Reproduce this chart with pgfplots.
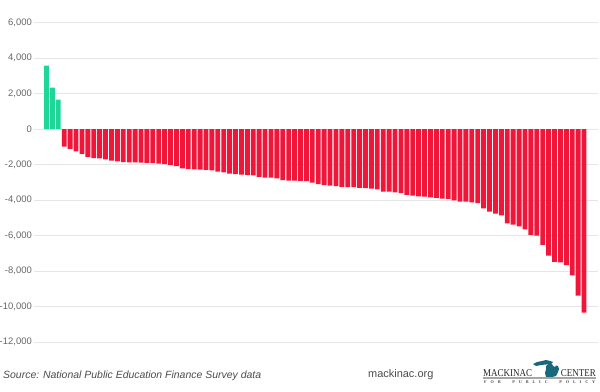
\documentclass[border=0pt]{standalone}
\usepackage{fontspec}
\setmainfont{Liberation Sans}
\newfontfamily\seriffont{Liberation Serif}
\usepackage{pgfplots}
\pgfplotsset{compat=1.18}
\definecolor{barred}{RGB}{240,22,58}
\definecolor{bargreen}{RGB}{30,214,152}
\definecolor{gridgray}{RGB}{230,230,230}
\definecolor{ticktext}{RGB}{102,102,102}
\definecolor{srctext}{RGB}{75,75,75}
\definecolor{mteal}{RGB}{25,105,125}
\begin{document}
\begin{tikzpicture}
\path[use as bounding box] (0bp,0bp) rectangle (600bp,392bp);
\begin{axis}[
  at={(34.5bp,50bp)}, anchor=south west,
  scale only axis, width=563.5bp, height=319.3bp,
  xmin=-2.03, xmax=93.36, ymin=-12000, ymax=6000,
  axis line style={draw=none},
  xtick=\empty,
  ytick={-12000,-10000,...,6000},
  scaled y ticks=false,
  major tick length=0pt,
  ymajorgrids,
  grid style={color=gridgray, line width=0.8bp},
  yticklabel style={anchor=east, inner sep=0pt, xshift=-2.5bp, text=ticktext,
    font=\fontsize{9.5}{11}\selectfont,
    /pgf/number format/.cd, fixed, precision=0, 1000 sep={,}, assume math mode=true},
]
\addplot[ybar, bar width=0.82, bar shift=0pt, fill=bargreen, draw=none]
  coordinates {(0,3580)(1,2340)(2,1670)};
\addplot[ybar, bar width=0.82, bar shift=0pt, fill=barred, draw=none]
  coordinates {
  (3,-980)(4,-1110)(5,-1260)(6,-1390)(7,-1560)(8,-1640)(9,-1650)(10,-1710)
  (11,-1770)(12,-1820)(13,-1860)(14,-1880)(15,-1880)(16,-1890)(17,-1900)(18,-1920)
  (19,-1940)(20,-1970)(21,-2030)(22,-2090)(23,-2210)(24,-2240)(25,-2270)(26,-2280)
  (27,-2290)(28,-2330)(29,-2390)(30,-2440)(31,-2510)(32,-2540)(33,-2560)(34,-2590)
  (35,-2610)(36,-2690)(37,-2730)(38,-2740)(39,-2780)(40,-2880)(41,-2900)(42,-2900)
  (43,-2910)(44,-2930)(45,-3010)(46,-3100)(47,-3160)(48,-3180)(49,-3210)(50,-3250)
  (51,-3270)(52,-3270)(53,-3310)(54,-3330)(55,-3350)(56,-3400)(57,-3520)(58,-3530)
  (59,-3570)(60,-3610)(61,-3700)(62,-3750)(63,-3790)(64,-3800)(65,-3850)(66,-3870)
  (67,-3920)(68,-3930)(69,-4020)(70,-4080)(71,-4080)(72,-4130)(73,-4170)(74,-4470)
  (75,-4650)(76,-4770)(77,-4860)(78,-5310)(79,-5380)(80,-5480)(81,-5650)(82,-5960)
  (83,-6010)(84,-6520)(85,-7130)(86,-7480)(87,-7510)(88,-7660)(89,-8250)(90,-9390)
  (91,-10350)};
\end{axis}
\begin{scope}[x=1bp,y=1bp]
\node[anchor=base west, inner sep=0pt, text=srctext, font=\fontsize{10.5}{12}\selectfont\itshape]
  at (3,13.8) {Source: National Public Education Finance Survey data};
\node[anchor=base west, inner sep=0pt, text=srctext, font=\fontsize{11}{12}\selectfont]
  at (368,14.8) {mackinac.org};
% logo
\node[anchor=base west, inner sep=0pt, xscale=0.86, text=black!85, font=\seriffont\fontsize{10.5}{12}\selectfont]
  at (483,15.6) {MACKINAC};
\node[anchor=base east, inner sep=0pt, xscale=0.86, text=black!85, font=\seriffont\fontsize{10.5}{12}\selectfont]
  at (596,15.6) {CENTER};
\fill[mteal] (533,28) -- (537,30) -- (542,31) -- (546,32) -- (550,31) -- (553,30) -- (551,28)
  -- (546,27.5) -- (541,27) -- (536,26) -- cycle;
\fill[mteal] (546,26) -- (549,28.5) -- (552,28) -- (553,26) -- (555,25) -- (556,26.5) -- (558,26)
  -- (559,23) -- (558,20) -- (556,16) -- (552,15) -- (546,15) -- (545,19) -- (546,23) -- cycle;
\fill[black!35] (483,13.2) rectangle (596,14.6);
\node[anchor=base west, inner sep=0pt, text=black!70, font=\seriffont\fontsize{4.2}{5}\selectfont\bfseries]
  at (484,8.8) {\makebox[111bp][s]{F\hfil O\hfil R\hfil\hfil\hfil P\hfil U\hfil B\hfil L\hfil I\hfil C\hfil\hfil\hfil P\hfil O\hfil L\hfil I\hfil C\hfil Y}};
\end{scope}
\end{tikzpicture}
\end{document}
